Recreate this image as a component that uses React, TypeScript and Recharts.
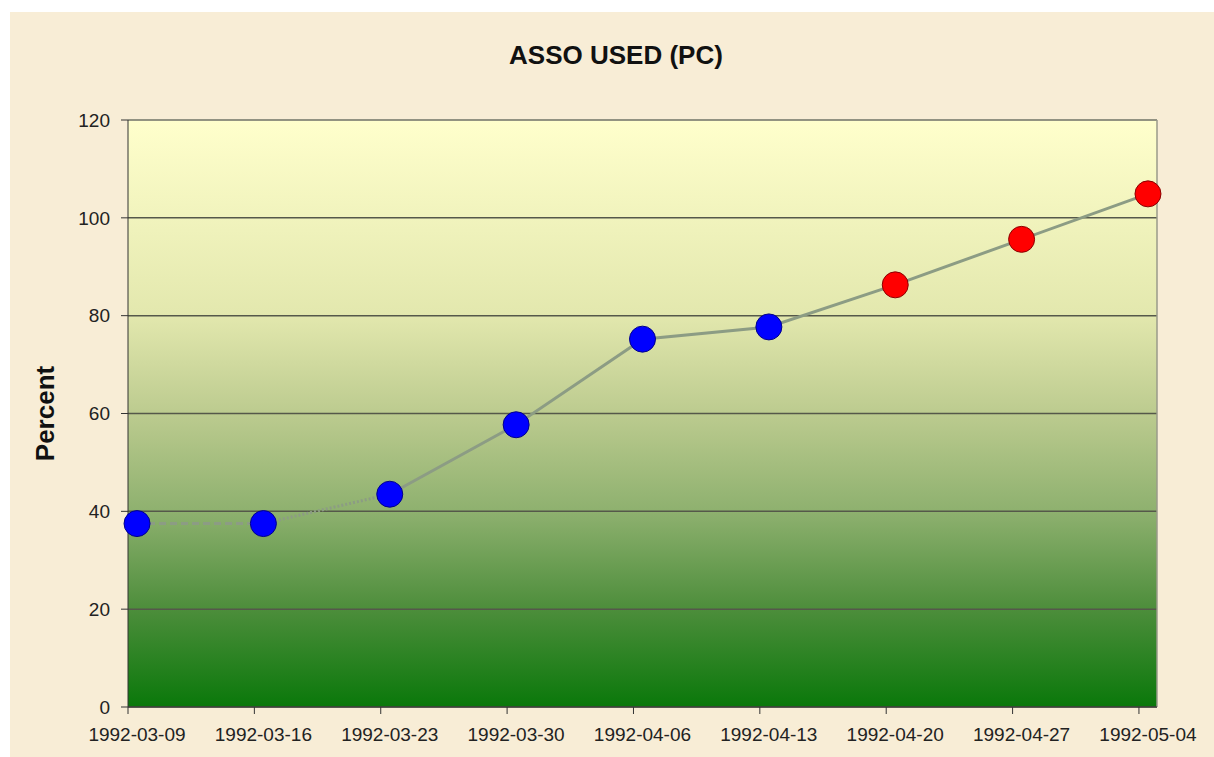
import { LineChart, Line, XAxis, YAxis, CartesianGrid, ReferenceLine } from "recharts";

const dates = [
  "1992-03-09",
  "1992-03-16",
  "1992-03-23",
  "1992-03-30",
  "1992-04-06",
  "1992-04-13",
  "1992-04-20",
  "1992-04-27",
  "1992-05-04",
];
const assoUsed = [37.5, 37.5, 43.5, 57.7, 75.2, 77.7, 86.3, 95.6, 104.9];
const status = ["actual", "actual", "actual", "actual", "actual", "actual", "forecast", "forecast", "forecast"];
const yTicks = [0, 20, 40, 60, 80, 100, 120];

const DAY = 86400000;
const start = Date.parse(dates[0]);
const dayOf = (d: string) => Math.round((Date.parse(d) - start) / DAY);
const tickDays = dates.map(dayOf);
const lastDay = tickDays[tickDays.length - 1] + 1;

// Excel date axis: points sit mid-day, ticks on the day boundary
const rows = dates.map((d, i) => ({
  day: dayOf(d) + 0.5,
  value: assoUsed[i],
  dashed: i <= 1 ? assoUsed[i] : null,
  dotted: i >= 1 && i <= 2 ? assoUsed[i] : null,
  solid: i >= 2 ? assoUsed[i] : null,
  status: status[i],
}));

const FONT = '"Liberation Sans", Arial, sans-serif';

function DateTick(props: any) {
  const { x, y, payload } = props;
  const idx = tickDays.indexOf(payload.value);
  return (
    <text x={x + 9} y={y} dy="0.71em" textAnchor="middle" fill="#222" fontSize={19} fontFamily={FONT}>
      {idx >= 0 ? dates[idx] : ""}
    </text>
  );
}

function renderDot(props: any) {
  const { cx, cy, payload, index } = props;
  if (cx == null || cy == null) return <g key={index} />;
  const red = payload.status === "forecast";
  return (
    <circle
      key={index}
      cx={cx}
      cy={cy}
      r={13}
      fill={red ? "#FF0000" : "#0000FF"}
      stroke={red ? "#8B0000" : "#00008B"}
      strokeWidth={1}
    />
  );
}

export default function App() {
  return (
    <div
      style={{
        position: "fixed",
        left: 10,
        top: 12,
        right: 0,
        bottom: 0,
        background: "#F8EDD6",
        fontFamily: FONT,
      }}
    >
      <div
        style={{
          position: "absolute",
          left: 606,
          top: 28,
          transform: "translateX(-50%)",
          fontSize: 26,
          fontWeight: "bold",
          color: "#111",
          whiteSpace: "nowrap",
        }}
      >
        ASSO USED (PC)
      </div>
      <LineChart width={1204} height={745} data={rows} margin={{ top: 108, right: 57, bottom: 0, left: 0 }}>
        <defs>
          <linearGradient id="plotGrad" x1="0" y1="0" x2="0" y2="1">
            <stop offset="0%" stopColor="#FFFFCC" />
            <stop offset="33%" stopColor="#E3E8AE" />
            <stop offset="50%" stopColor="#BCCB8F" />
            <stop offset="67%" stopColor="#8DB06E" />
            <stop offset="83%" stopColor="#4E8E3C" />
            <stop offset="100%" stopColor="#0A780A" />
          </linearGradient>
        </defs>
        <CartesianGrid vertical={false} stroke="#55584a" strokeWidth={1.5} fill="url(#plotGrad)" fillOpacity={1} />
        <XAxis
          type="number"
          dataKey="day"
          domain={[0, lastDay]}
          ticks={tickDays}
          height={50}
          tickSize={7}
          tickMargin={14}
          axisLine={{ stroke: "#333" }}
          tickLine={{ stroke: "#333" }}
          tick={<DateTick />}
          interval={0}
        />
        <YAxis
          type="number"
          domain={[0, 120]}
          ticks={yTicks}
          width={118}
          tickSize={7}
          tickMargin={11}
          axisLine={{ stroke: "#333" }}
          tickLine={{ stroke: "#333" }}
          tick={{ fill: "#222", fontSize: 19, fontFamily: FONT }}
          label={{
            value: "Percent",
            angle: -90,
            position: "insideLeft",
            offset: 35,
            style: { textAnchor: "middle", fontSize: 26, fontWeight: "bold", fill: "#111", fontFamily: FONT },
          }}
        />
        <ReferenceLine y={120} stroke="#9a9a8a" strokeWidth={1.5} />
        <ReferenceLine x={lastDay} stroke="#9a9a8a" strokeWidth={1.5} />
        <Line dataKey="dashed" stroke="#8c9c84" strokeWidth={3} strokeDasharray="7 4" dot={false} activeDot={false} isAnimationActive={false} />
        <Line dataKey="dotted" stroke="#8c9c84" strokeWidth={3} strokeDasharray="2 2" dot={false} activeDot={false} isAnimationActive={false} />
        <Line dataKey="solid" stroke="#8c9c84" strokeWidth={3} dot={false} activeDot={false} isAnimationActive={false} />
        <Line dataKey="value" stroke="none" dot={renderDot} activeDot={false} isAnimationActive={false} />
      </LineChart>
    </div>
  );
}
